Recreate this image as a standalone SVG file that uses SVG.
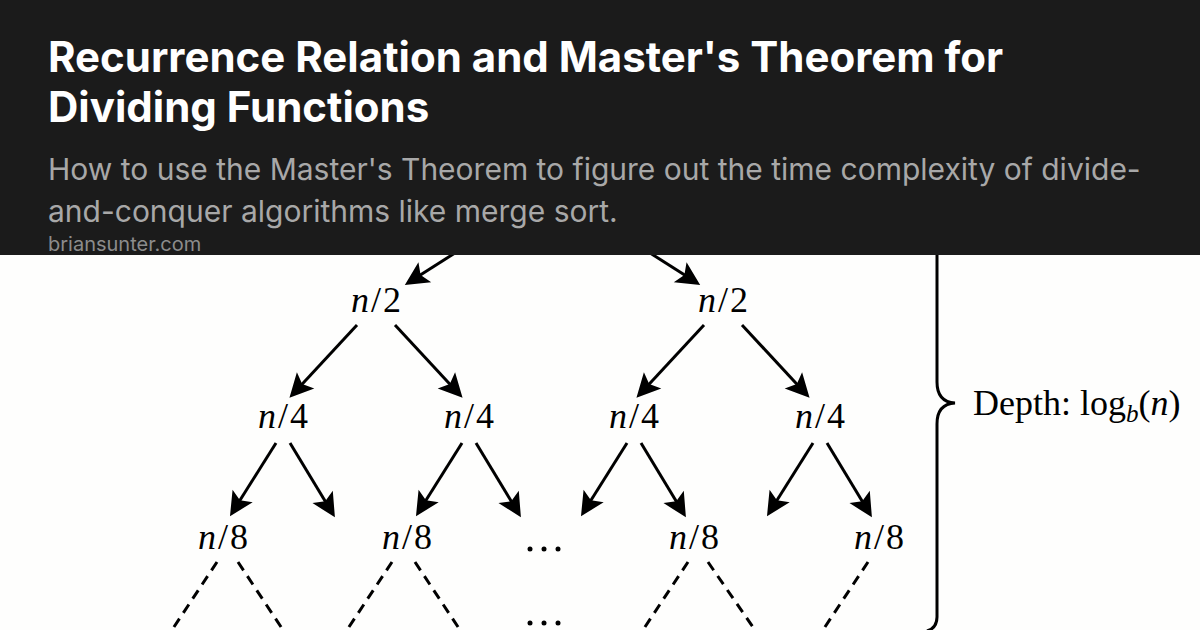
<svg xmlns="http://www.w3.org/2000/svg" width="1200" height="630" viewBox="0 0 1200 630">
<defs>
<marker id="ah" markerUnits="userSpaceOnUse" markerWidth="30" markerHeight="30" viewBox="-10 -12 24 24" refX="0" refY="0" orient="auto">
<path d="M11,0 L-8,-9.5 L-4,0 L-8,9.5 Z" fill="#000"/>
</marker>
</defs>
<style>
.node{font-family:"Liberation Serif","Times New Roman",serif;font-size:36px;fill:#000;text-anchor:middle;letter-spacing:2px}
.it{font-style:italic}
.arr{stroke:#000;stroke-width:3;fill:none;marker-end:url(#ah)}
.dash{stroke:#000;stroke-width:3;fill:none;stroke-dasharray:10 7}
.title{font-family:Inter,"Noto Sans",sans-serif;font-weight:700;font-size:42px;fill:#fff}
.sub{font-family:Inter,"Noto Sans",sans-serif;font-size:30px;fill:#a8a8a8}
.dom{font-family:Inter,"Noto Sans",sans-serif;font-size:20px;fill:#8c8c8c}
</style>
<rect x="0" y="0" width="1200" height="630" fill="#fefefd"/>
<g id="connectors">
<line class="arr" x1="469" y1="244" x2="416.4" y2="277.6"/>
<line class="arr" x1="636" y1="244" x2="688.6" y2="277.6"/>
<line class="arr" x1="357" y1="325" x2="298.8" y2="387.7"/>
<line class="arr" x1="395" y1="325" x2="453.2" y2="387.7"/>
<line class="arr" x1="704" y1="325" x2="645.8" y2="387.7"/>
<line class="arr" x1="742" y1="325" x2="800.2" y2="387.7"/>
<line class="arr" x1="276" y1="443" x2="237.3" y2="504.5"/>
<line class="arr" x1="290" y1="443" x2="327.8" y2="505.5"/>
<line class="arr" x1="462" y1="443" x2="423.3" y2="504.5"/>
<line class="arr" x1="476" y1="443" x2="513.8" y2="505.5"/>
<line class="arr" x1="627" y1="443" x2="588.3" y2="504.5"/>
<line class="arr" x1="641" y1="443" x2="678.8" y2="505.5"/>
<line class="arr" x1="813" y1="443" x2="774.3" y2="504.5"/>
<line class="arr" x1="827" y1="443" x2="864.8" y2="505.5"/>
<line class="dash" x1="217" y1="562" x2="170" y2="633"/>
<line class="dash" x1="238" y1="562" x2="285" y2="633"/>
<line class="dash" x1="392" y1="562" x2="345" y2="633"/>
<line class="dash" x1="415" y1="562" x2="462" y2="633"/>
<line class="dash" x1="688" y1="562" x2="641" y2="633"/>
<line class="dash" x1="708" y1="562" x2="757" y2="633"/>
<line class="dash" x1="868" y1="562" x2="821" y2="633"/>
</g>
<g id="n2a"><text class="node" x="377" y="312"><tspan class="it">n</tspan>/2</text></g>
<g id="n2b"><text class="node" x="724" y="312"><tspan class="it">n</tspan>/2</text></g>
<g id="n4a"><text class="node" x="284" y="428"><tspan class="it">n</tspan>/4</text></g>
<g id="n4b"><text class="node" x="470" y="428"><tspan class="it">n</tspan>/4</text></g>
<g id="n4c"><text class="node" x="635" y="428"><tspan class="it">n</tspan>/4</text></g>
<g id="n4d"><text class="node" x="821" y="428"><tspan class="it">n</tspan>/4</text></g>
<g id="n8a"><text class="node" x="224" y="549"><tspan class="it">n</tspan>/8</text></g>
<g id="n8b"><text class="node" x="408" y="549"><tspan class="it">n</tspan>/8</text></g>
<g id="n8c"><text class="node" x="695" y="549"><tspan class="it">n</tspan>/8</text></g>
<g id="n8d"><text class="node" x="880" y="549"><tspan class="it">n</tspan>/8</text></g>
<g id="ell1" fill="#000"><circle cx="530" cy="549" r="2.5"/><circle cx="544" cy="549" r="2.5"/><circle cx="558" cy="549" r="2.5"/></g>
<g id="ell2" fill="#000"><circle cx="530" cy="623" r="2.5"/><circle cx="544" cy="623" r="2.5"/><circle cx="558" cy="623" r="2.5"/></g>
<g id="brace">
<path d="M937 150 L937 382 Q937 402 955 403 Q937 404 937 424 L937 617 Q937 628 927 631" fill="none" stroke="#000" stroke-width="3"/>
<text x="973" y="415" font-family="Liberation Serif,Times New Roman,serif" font-size="36" fill="#000">Depth: log<tspan class="it" font-size="25" dy="7">b</tspan><tspan dy="-7">(</tspan><tspan class="it">n</tspan>)</text>
</g>
<g id="header">
<rect x="0" y="0" width="1200" height="255" fill="#1b1b1b"/>
<text class="title" x="48" y="72">Recurrence Relation and Master's Theorem for</text>
<text class="title" x="48" y="122">Dividing Functions</text>
<text class="sub" x="48" y="180">How to use the Master's Theorem to figure out the time complexity of divide-</text>
<text class="sub" x="48" y="222">and-conquer algorithms like merge sort.</text>
<text class="dom" x="48" y="251">briansunter.com</text>
</g>
</svg>
